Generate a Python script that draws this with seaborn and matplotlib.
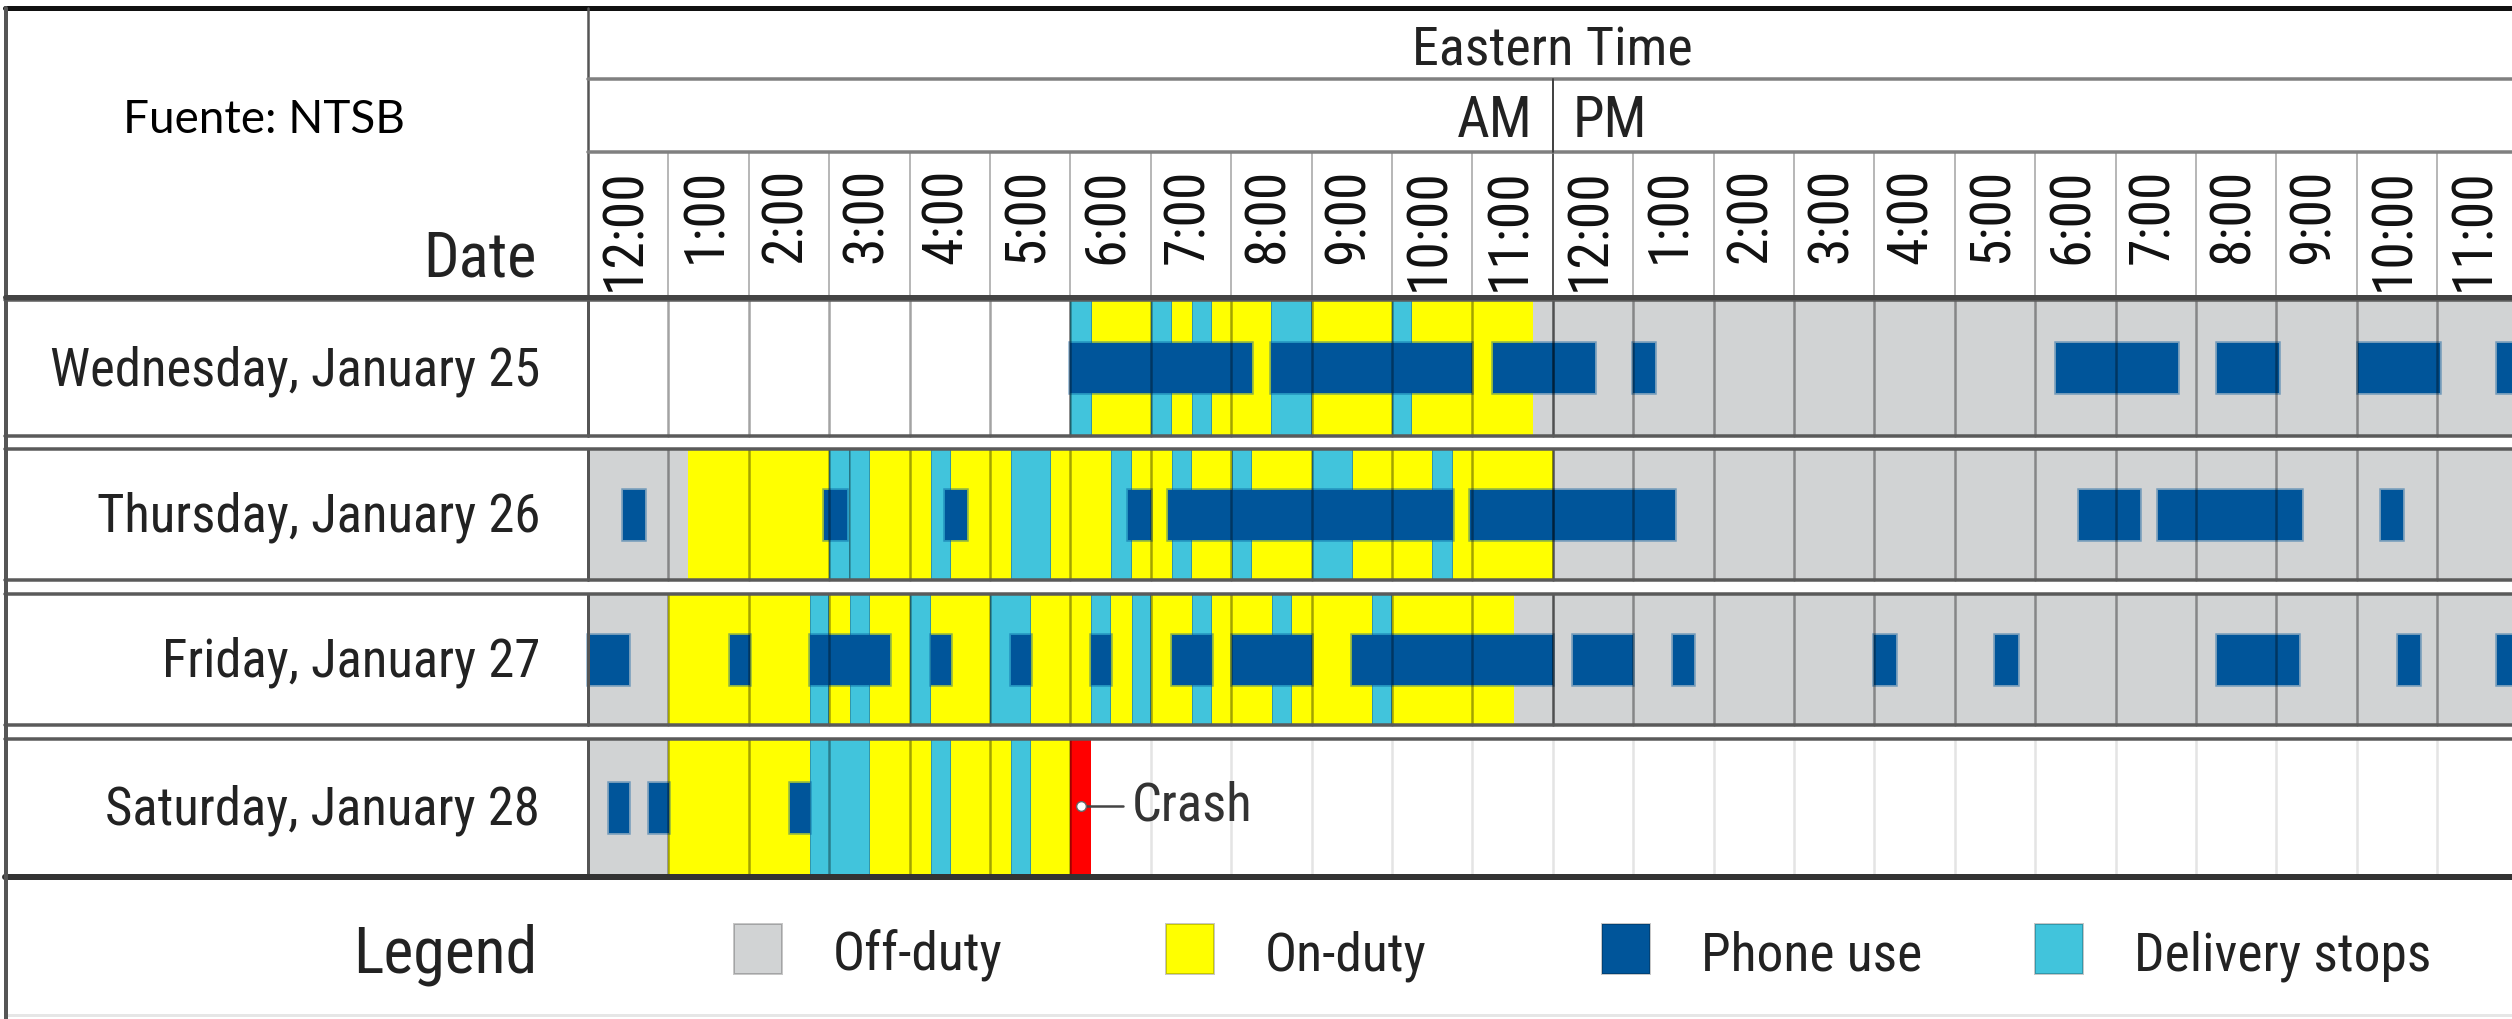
import numpy as np
import pandas as pd
import matplotlib
matplotlib.use("Agg")
import matplotlib.pyplot as plt
from matplotlib.patches import Rectangle
from matplotlib import font_manager
import seaborn as sns

# ---------------- data ----------------
days = ["Wednesday, January 25", "Thursday, January 26",
        "Friday, January 27", "Saturday, January 28"]
hour_labels = ["12:00"] + [f"{h}:00" for h in range(1, 12)]
hour_labels = hour_labels + hour_labels
status_names = ["Off-duty", "On-duty", "Phone use", "Delivery stops"]

# duty status segments (start hour, end hour, status)
wed_status = [(6.0, 6.27, "D"), (6.27, 7.0, "On"), (7.0, 7.26, "D"), (7.26, 7.51, "On"),
              (7.51, 7.76, "D"), (7.76, 8.5, "On"), (8.5, 9.0, "D"), (9.0, 10.0, "On"),
              (10.0, 10.25, "D"), (10.25, 11.75, "On"), (11.75, 24.0, "Off")]
thu_status = [(0.0, 1.25, "Off"), (1.25, 3.0, "On"), (3.0, 3.26, "D"), (3.26, 3.51, "D"),
              (3.51, 4.26, "On"), (4.26, 4.51, "D"), (4.51, 5.26, "On"), (5.26, 5.76, "D"),
              (5.76, 6.51, "On"), (6.51, 6.76, "D"), (6.76, 7.26, "On"), (7.26, 7.51, "D"),
              (7.51, 8.01, "On"), (8.01, 8.26, "D"), (8.26, 9.0, "On"), (9.0, 9.51, "D"),
              (9.51, 10.5, "On"), (10.5, 10.76, "D"), (10.76, 12.0, "On"), (12.0, 24.0, "Off")]
fri_status = [(0.0, 1.0, "Off"), (1.0, 2.76, "On"), (2.76, 3.0, "D"), (3.0, 3.26, "On"),
              (3.26, 3.51, "D"), (3.51, 4.0, "On"), (4.0, 4.26, "D"), (4.26, 5.0, "On"),
              (5.0, 5.51, "D"), (5.51, 6.26, "On"), (6.26, 6.51, "D"), (6.51, 6.76, "On"),
              (6.76, 7.0, "D"), (7.0, 7.51, "On"), (7.51, 7.76, "D"), (7.76, 8.51, "On"),
              (8.51, 8.76, "D"), (8.76, 9.75, "On"), (9.75, 10.0, "D"), (10.0, 11.52, "On"),
              (11.52, 24.0, "Off")]
sat_status = [(0.0, 1.0, "Off"), (1.0, 2.76, "On"), (2.76, 3.51, "D"), (3.51, 4.26, "On"),
              (4.26, 4.51, "D"), (4.51, 5.26, "On"), (5.26, 5.51, "D"), (5.51, 6.0, "On"),
              (6.0, 6.26, "Crash")]

# phone use intervals (start hour, end hour)
wed_phone = [(6.0, 8.26), (8.5, 11.0), (11.25, 12.52), (13.0, 13.27), (18.26, 19.77),
             (20.26, 21.03), (22.02, 23.03), (23.74, 24.0)]
thu_phone = [(0.43, 0.71), (2.94, 3.22), (4.44, 4.72), (6.72, 7.0), (7.22, 10.76),
             (10.97, 13.52), (18.54, 19.3), (19.53, 21.32), (22.3, 22.57)]
fri_phone = [(0.0, 0.51), (1.76, 2.01), (2.76, 3.76), (4.26, 4.51), (5.26, 5.51),
             (6.26, 6.51), (7.26, 7.76), (8.01, 9.0), (9.5, 12.0), (12.25, 13.0),
             (13.5, 13.76), (16.0, 16.27), (17.5, 17.79), (20.26, 21.28), (22.51, 22.79),
             (23.74, 24.0)]
sat_phone = [(0.26, 0.51), (0.76, 1.01), (2.51, 2.76)]

crash_time = 6.13
crash_label = "Crash"

# ---------------- style ----------------
sns.set_theme(style="white")
names = {f.name for f in font_manager.fontManager.ttflist}
NARROW, SCALE = "Roboto", None
for cand in ["Roboto Condensed", "Liberation Sans Narrow", "Open Sans Condensed",
             "Noto Sans Condensed", "DejaVu Sans Condensed"]:
    if cand in names:
        NARROW, SCALE = cand, 1.0
        break
if SCALE is None:
    NARROW, SCALE = "Roboto", 0.86
plt.rcParams["font.family"] = [NARROW, "DejaVu Sans"]

colors = {"Off": "#D1D3D4", "On": "#FFFF00", "D": "#41C4DC", "Crash": "#FF0000"}
phone_color = "#00559A"
legend_colors = ["#D1D3D4", "#FFFF00", "#00559A", "#41C4DC"]
TXT = "#222222"

W, H = 2512, 1020
fig = plt.figure(figsize=(W / 100, H / 100), dpi=100)
ax = fig.add_axes([0, 0, 1, 1])
X0, HPX = 588.0, 80.4          # pixel of 12:00 AM, pixels per hour


def hx(px):
    return (px - X0) / HPX


def lw(px):
    return px * 72 / 100


ax.set_xlim(hx(0), hx(W))
ax.set_ylim(H, 0)
ax.axis("off")

row_top = [301, 450, 595, 740]
row_bot = [437, 581, 726, 877]
row_c = [(t + b) / 2 for t, b in zip(row_top, row_bot)]
row_h = [b - t for t, b in zip(row_top, row_bot)]

status_lists = [wed_status, thu_status, fri_status, sat_status]
phone_lists = [wed_phone, thu_phone, fri_phone, sat_phone]

seg = pd.DataFrame([(i, s, e, k) for i, lst in enumerate(status_lists) for (s, e, k) in lst],
                   columns=["row", "start", "end", "status"])
ph = pd.DataFrame([(i, s, e) for i, lst in enumerate(phone_lists) for (s, e) in lst],
                  columns=["row", "start", "end"])

# status fills
for k, grp in seg.groupby("status"):
    edge = (0, 0, 0, 0.3) if k in ("D",) else "none"
    ax.barh([row_c[r] for r in grp["row"]], grp["end"] - grp["start"], left=grp["start"],
            height=[row_h[r] for r in grp["row"]], color=colors[k], edgecolor=edge,
            linewidth=lw(1.5), zorder=1)

# phone bars
ax.barh([row_c[r] for r in ph["row"]], ph["end"] - ph["start"], left=ph["start"], height=50,
        color=phone_color, edgecolor=(0.0, 0.333, 0.604, 0.45), linewidth=lw(3.5), zorder=4)

# hour grid lines within rows
for i in range(4):
    for h in range(1, 24):
        if i == 3 and h > 6.26:
            ax.plot([h, h], [row_top[i], row_bot[i]], color="#E4E4E4", lw=lw(2.5), zorder=0.5)
        else:
            a = 0.62 if h == 12 else 0.36
            ax.plot([h, h], [row_top[i], row_bot[i]], color=(0, 0, 0, a), lw=lw(2.5), zorder=5)
    ax.plot([0, 0], [row_top[i], row_bot[i]], color="#555555", lw=lw(3), zorder=6)
    ax.plot([hx(5), hx(W)], [row_top[i], row_top[i]], color="#5A5A5A", lw=lw(3.5), zorder=6)
    ax.plot([hx(5), hx(W)], [row_bot[i], row_bot[i]], color="#5A5A5A", lw=lw(3.5), zorder=6)
    ax.text(hx(540), row_c[i] + 2, days[i], ha="right", va="center",
            fontsize=38 * SCALE, color=TXT)

ax.plot([hx(5), hx(W)], [row_bot[3] + 1, row_bot[3] + 1], color="#333333", lw=lw(6), zorder=7)

# crash annotation
ax.plot([crash_time + 0.07, 6.65], [row_c[3] - 2, row_c[3] - 2], color="#444444", lw=lw(2.5), zorder=8)
ax.plot(crash_time, row_c[3] - 2, "o", ms=7, mfc="white", mec="#666666", mew=1, zorder=9)
ax.text(6.76, row_c[3] - 2, crash_label, ha="left", va="center", fontsize=38 * SCALE,
        color="#333333", zorder=9)

# ---------------- header ----------------
ax.plot([hx(5), hx(W)], [9, 9], color="#111111", lw=lw(5), zorder=7)
ax.plot([hx(6), hx(6)], [9, 1020], color="#555555", lw=lw(4), zorder=7)
ax.plot([0, 0], [9, 298], color="#555555", lw=lw(2.5), zorder=7)
ax.plot([0, hx(W)], [80, 80], color="#808080", lw=lw(3.5), zorder=7)
ax.plot([0, hx(W)], [153, 153], color="#808080", lw=lw(3.5), zorder=7)
ax.plot([12, 12], [80, 153], color="#444444", lw=lw(2), zorder=7)
ax.plot([hx(5), hx(W)], [298, 298], color="#444444", lw=lw(5), zorder=7)
for h in range(1, 24):
    c = "#555555" if h == 12 else "#B8B8B8"
    ax.plot([h, h], [153, 297], color=c, lw=lw(2), zorder=2)
hour_fs = 40 if SCALE == 1.0 else 36
for h, lab in enumerate(hour_labels):
    ax.text(h + 0.46, 168, lab, rotation=90, ha="center", va="top",
            fontsize=hour_fs, color="#111111")

ax.text(12, 65, "Eastern Time", ha="center", va="baseline", fontsize=39 * SCALE, color=TXT)
ax.text(hx(1533), 137, "AM", ha="right", va="baseline", fontsize=41 * SCALE, color=TXT)
ax.text(hx(1573), 137, "PM", ha="left", va="baseline", fontsize=41 * SCALE, color=TXT)
ax.text(hx(537), 277, "Date", ha="right", va="baseline", fontsize=45 * SCALE, color=TXT)
ax.text(hx(123), 120, "Fuente: NTSB", ha="left", va="center", fontsize=33,
        family=["Lato", "DejaVu Sans"], color="black")

# ---------------- legend ----------------
ax.text(hx(537), 973, "Legend", ha="right", va="baseline", fontsize=46 * SCALE, color=TXT)
sw_x = [734, 1166, 1602, 2035]
for x, c, lab in zip(sw_x, legend_colors, status_names):
    ax.add_patch(Rectangle((hx(x), 925), 48 / HPX, 50, facecolor=c,
                           edgecolor=(0, 0, 0, 0.22), linewidth=lw(2), zorder=3))
    ax.text(hx(x + 99), 971, lab, ha="left", va="baseline", fontsize=38.5 * SCALE, color=TXT)
ax.plot([hx(5), hx(W)], [1016, 1016], color="#E6E6E6", lw=lw(3), zorder=1)

fig.savefig("out.png", dpi=100, facecolor="white")
